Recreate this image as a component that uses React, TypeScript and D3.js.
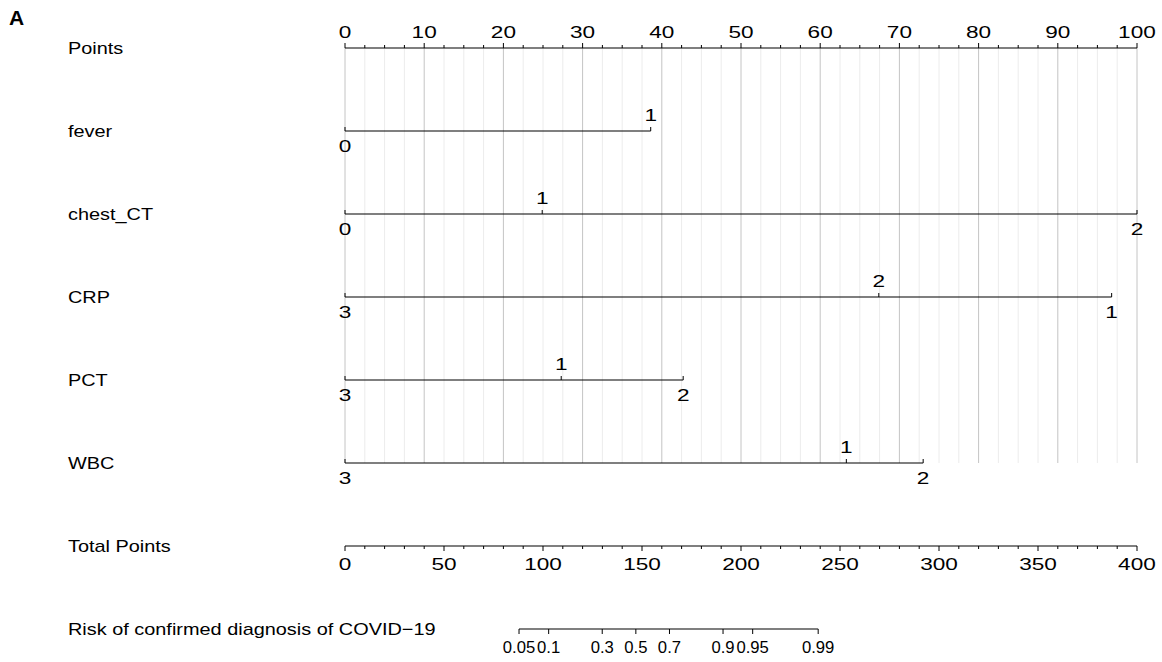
import React from "react";
import * as d3 from "d3";

const W = 1162;
const H = 662;

const pointsTicks = d3.range(0, 101, 10);
const pointsMinor = d3.range(0, 100.1, 2.5);
const totalTicks = d3.range(0, 401, 50);
const totalMinor = d3.range(0, 401, 10);
const riskTicks = [0.05, 0.1, 0.3, 0.5, 0.7, 0.9, 0.95, 0.99];
const riskLabels = ["0.05", "0.1", "0.3", "0.5", "0.7", "0.9", "0.95", "0.99"];
const lpIntercept = -7.33;
const lpSlope = 0.0499;

const variables = ["fever", "chest_CT", "CRP", "PCT", "WBC"];
const feverLevels = ["0", "1"];
const feverPoints = [0, 38.6];
const chestLevels = ["0", "1", "2"];
const chestPoints = [0, 24.9, 100];
const crpLevels = ["3", "2", "1"];
const crpPoints = [0, 67.4, 96.8];
const pctLevels = ["3", "1", "2"];
const pctPoints = [0, 27.3, 42.7];
const wbcLevels = ["3", "1", "2"];
const wbcPoints = [0, 63.3, 73.0];

const varLevels = [feverLevels, chestLevels, crpLevels, pctLevels, wbcLevels];
const varPoints = [feverPoints, chestPoints, crpPoints, pctPoints, wbcPoints];

const rowLabels = ["Points", ...variables, "Total Points", "Risk of confirmed diagnosis of COVID\u221219"];

const FONT = "'Liberation Sans', Arial, Helvetica, sans-serif";

function stretch(cx: number, s: number) {
  return `translate(${cx},0) scale(${s},1) translate(${-cx},0)`;
}

export default function App() {
  const x = d3.scaleLinear().domain([0, 100]).range([345, 1137]);
  const xt = d3.scaleLinear().domain([0, 400]).range([345, 1137]);
  const y = d3.scaleLinear().domain([0, 1]).range([48, 131]);
  const riskX = (p: number) => xt((Math.log(p / (1 - p)) - lpIntercept) / lpSlope);

  const rowY = (i: number) => y(i);
  const lastVarY = rowY(variables.length);
  const totalY = rowY(variables.length + 1);
  const riskY = rowY(variables.length + 2);
  const fs = 17;
  const sLabel = 1.17;
  const sTick = 1.33;
  const sRisk = 0.98;

  return (
    <svg width={W} height={H} style={{ position: "absolute", left: 0, top: 0, background: "#fff" }} fontFamily={FONT}>
      <text x={9} y={25} fontSize={21} fontWeight="bold">A</text>

      {pointsMinor.map((v) => (
        <line key={"g" + v} x1={x(v)} x2={x(v)} y1={rowY(0)} y2={lastVarY}
          stroke={v % 10 === 0 ? "#c4c4c4" : "#ececec"} strokeWidth={1} />
      ))}

      {rowLabels.map((l, i) => (
        <text key={l} x={68} y={rowY(i) + 6} fontSize={fs} transform={stretch(68, sLabel)}>{l}</text>
      ))}

      <line x1={x(0)} x2={x(100)} y1={rowY(0)} y2={rowY(0)} stroke="#000" strokeWidth={1.2} />
      {pointsMinor.map((v) => (
        <line key={"pt" + v} x1={x(v)} x2={x(v)} y1={rowY(0)} y2={rowY(0) - (v % 10 === 0 ? 5 : 3)} stroke="#000" strokeWidth={1} />
      ))}
      {pointsTicks.map((v) => (
        <text key={"pl" + v} x={x(v)} y={rowY(0) - 10} fontSize={fs} textAnchor="middle"
          transform={stretch(x(v), sTick)}>{v}</text>
      ))}

      {variables.map((name, i) => {
        const yy = rowY(i + 1);
        const pts = varPoints[i];
        const lv = varLevels[i];
        const order = d3.range(pts.length).sort((a, b) => pts[a] - pts[b]);
        return (
          <g key={name}>
            <line x1={x(d3.min(pts)!)} x2={x(d3.max(pts)!)} y1={yy} y2={yy} stroke="#000" strokeWidth={1.2} />
            {order.map((k, j) => (
              <g key={k}>
                <line x1={x(pts[k])} x2={x(pts[k])} y1={yy} y2={yy - 4} stroke="#000" strokeWidth={1} />
                <text x={x(pts[k])} y={j % 2 === 0 ? yy + 21 : yy - 10} fontSize={fs} textAnchor="middle"
                  transform={stretch(x(pts[k]), sTick)}>{lv[k]}</text>
              </g>
            ))}
          </g>
        );
      })}

      <line x1={xt(0)} x2={xt(400)} y1={totalY} y2={totalY} stroke="#000" strokeWidth={1.2} />
      {totalMinor.map((v) => (
        <line key={"tt" + v} x1={xt(v)} x2={xt(v)} y1={totalY} y2={totalY + (v % 50 === 0 ? 5 : 3)} stroke="#000" strokeWidth={1} />
      ))}
      {totalTicks.map((v) => (
        <text key={"tl" + v} x={xt(v)} y={totalY + 24} fontSize={fs} textAnchor="middle"
          transform={stretch(xt(v), sTick)}>{v}</text>
      ))}

      <line x1={riskX(riskTicks[0])} x2={riskX(riskTicks[riskTicks.length - 1])} y1={riskY} y2={riskY} stroke="#000" strokeWidth={1.2} />
      {riskTicks.map((p, i) => (
        <g key={"r" + p}>
          <line x1={riskX(p)} x2={riskX(p)} y1={riskY} y2={riskY + 5} stroke="#000" strokeWidth={1} />
          <text x={riskX(p)} y={riskY + 24} fontSize={fs} textAnchor="middle"
            transform={stretch(riskX(p), sRisk)}>{riskLabels[i]}</text>
        </g>
      ))}
    </svg>
  );
}
